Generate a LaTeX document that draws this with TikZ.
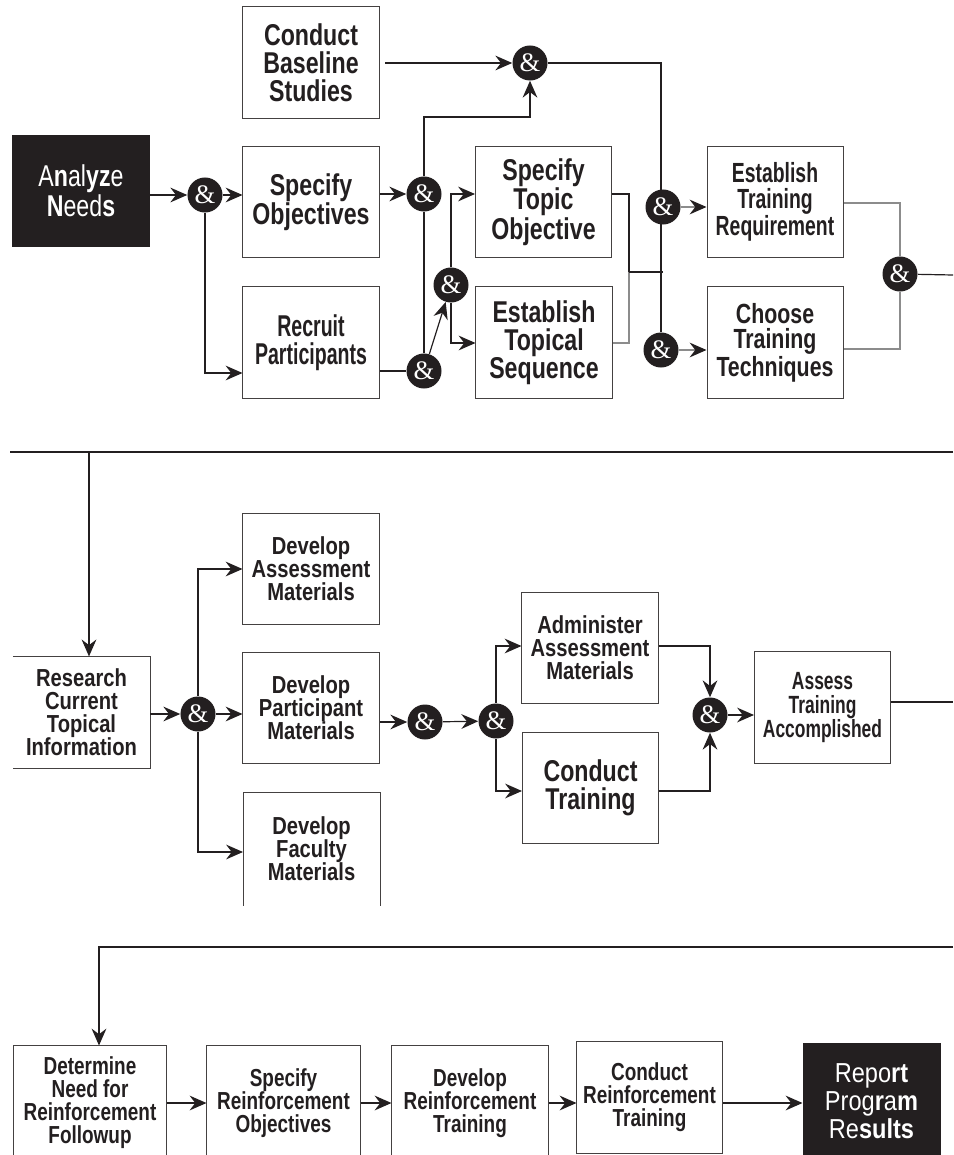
\documentclass[tikz,border=0pt]{standalone}
\usepackage{fontspec}
\setmainfont{Liberation Sans}
\newfontfamily\fA[FakeStretch=0.65]{Liberation Sans}
\newfontfamily\fB[FakeStretch=0.70]{Liberation Sans}
\newfontfamily\fC[FakeStretch=0.77]{Liberation Sans}
\newfontfamily\fD[FakeStretch=0.82]{Liberation Sans}
\newfontfamily\fE[FakeStretch=0.86]{Liberation Sans}
\newfontfamily\ampf{Liberation Serif}
\usetikzlibrary{arrows.meta,backgrounds}
\definecolor{ink}{HTML}{231F20}
\definecolor{gline}{HTML}{8C8C8C}
\begin{document}
\begin{tikzpicture}[x=0.025cm,y=-0.025cm,
  box/.style={draw=ink!85, line width=0.7pt, fill=white, text=ink, align=center, inner sep=0pt,
              minimum width=3.4cm, minimum height=2.78cm},
  openbox/.style={box, draw=none, fill=none},
  darkbox/.style={box, fill=ink, draw=ink, text=white},
  amp/.style={circle, fill=ink, text=white, minimum size=0.875cm, inner sep=0pt,
              font={\ampf\fontsize{19}{19}\selectfont}},
  line/.style={draw=ink, line width=0.85pt},
  gl/.style={draw=gline, line width=0.85pt},
  tip/.style={-{Stealth[length=12pt,width=10.5pt,inset=4pt,color=ink]}},
  arr/.style={line, tip},
  garr/.style={gl, tip},
  bigA/.style={font={\fA\fontsize{21.4}{19.9}\selectfont\bfseries}},
  bigB/.style={font={\fB\fontsize{19.7}{18.4}\selectfont\bfseries}},
  bigC/.style={font={\fC\fontsize{21.4}{19.9}\selectfont\bfseries}},
  midC/.style={font={\fC\fontsize{19.7}{18.4}\selectfont\bfseries}},
  smB/.style={font={\fB\fontsize{17.7}{17}\selectfont\bfseries}},
  smC/.style={font={\fC\fontsize{17.5}{16.4}\selectfont\bfseries}},
  smD/.style={font={\fD\fontsize{17.5}{16.4}\selectfont\bfseries}},
  side/.style={draw=ink!85, line width=0.7pt},
]
\useasboundingbox (0,0) rectangle (953,1155);

% ---------- top section ----------
\node[box,bigC] (base) at (311,62.5) {Conduct\\Baseline\\Studies};
\node[darkbox, font={\fC\fontsize{21.4}{21}\selectfont}] (analyze) at (81,191)
  {A\textbf{n}al\textbf{yz}e\\\textbf{N}eed\textbf{s}};
\node[box,bigC] (specobj) at (311,202) {Specify\\Objectives};
\node[box,bigA] (recruit) at (311,342.5) {Recruit\\Participants};
\node[box,bigC] (topicobj) at (543.5,202) {Specify\\Topic\\Objective};
\node[box,bigC] (topseq) at (544,342.5) {Establish\\Topical\\Sequence};
\node[box,bigB] (trainreq) at (775,202) {Establish\\Training\\Requirement};
\node[box,midC] (choose) at (775,342.5) {Choose\\Training\\Techniques};

\node[amp] (a1) at (205,195) {\&};
\node[amp] (a2) at (424,194) {\&};
\node[amp] (a3) at (530,63) {\&};
\node[amp] (a4) at (424,371) {\&};
\node[amp] (a5) at (451,285) {\&};
\node[amp] (a6) at (663,207) {\&};
\node[amp] (a7) at (661,350) {\&};
\node[amp] (a8) at (900,274) {\&};
\coordinate (j1) at (629,272);
\coordinate (e1) at (953,275);

% ---------- middle section ----------
\coordinate (l1) at (10,452);
\coordinate (r1) at (953,452);
\coordinate (d1) at (89,452);
\node[openbox,smD] (research) at (81.5,712.5) {Research\\Current\\Topical\\Information};
\node[box,smD] (devassess) at (311,569) {Develop\\Assessment\\Materials};
\node[box,smD] (devpart) at (311,708) {Develop\\Participant\\Materials};
\node[openbox,smD, minimum height=2.8cm] (devfac) at (311.5,849) {Develop\\Faculty\\Materials};
\node[box,smD] (admin) at (590,648) {Administer\\Assessment\\Materials};
\node[box,bigC] (condtrain) at (590.5,788) {Conduct\\Training};
\node[box,smB] (assess) at (822.5,707.5) {Assess\\Training\\Accomplished};

\node[amp] (b1) at (198,714) {\&};
\node[amp] (b2) at (425,722) {\&};
\node[amp] (b3) at (496,721) {\&};
\node[amp] (b4) at (710,715) {\&};
\coordinate (e2) at (953,702);

% ---------- bottom section ----------
\coordinate (r2) at (953,947);
\node[openbox,smC, minimum width=3.8cm, minimum height=2.85cm] (determine) at (90,1103)
  {Determine\\Need for\\Reinforcement\\Followup};
\node[openbox,smC, minimum width=3.825cm, minimum height=2.85cm] (specreinf) at (283.5,1103)
  {Specify\\Reinforcement\\Objectives};
\node[openbox,smC, minimum width=3.9cm, minimum height=2.85cm] (devreinf) at (470,1103)
  {Develop\\Reinforcement\\Training};
\node[box,smC, minimum width=3.625cm, minimum height=2.8cm] (condreinf) at (649.5,1097)
  {Conduct\\Reinforcement\\Training};
\node[darkbox, minimum width=3.425cm, minimum height=2.925cm,
      font={\fE\fontsize{19.5}{19.8}\selectfont}] (report) at (871.5,1101.5)
  {Repo\textbf{rt}\\Prog\textbf{r}a\textbf{m}\\Re\textbf{sults}};

\begin{scope}[on background layer]
  % open box outlines
  \draw[side] (research.north west) -- (research.north east)
      -- (research.south east) -- (research.south west);
  \draw[side] (devfac.south west) -- (devfac.north west)
      -- (devfac.north east) -- (devfac.south east);
  \draw[side] (determine.south west) -- (determine.north west)
      -- (determine.north east) -- (determine.south east);
  \draw[side] (specreinf.south west) -- (specreinf.north west)
      -- (specreinf.north east) -- (specreinf.south east);
  \draw[side] (devreinf.south west) -- (devreinf.north west)
      -- (devreinf.north east) -- (devreinf.south east);

  % top connectors
  \draw[arr] (analyze.east |- a1) -- (a1);
  \draw[arr] (a1) -- (a1 -| specobj.west);
  \draw[arr] (a1) |- (recruit.west |- 0,373);
  \draw[arr] (specobj.east |- a2) -- (a2);
  \draw[arr] (a2) |- (a3 |- 0,117) -- (a3);
  \draw[arr, shorten <=4pt] (base.east |- a3) -- (a3);
  \draw[line] (a2) -- (a4);
  \draw[line] (recruit.east |- a4) -- (a4);
  \draw[arr] (a4) -- (a5);
  \draw[arr] (a5) |- (topicobj.west |- 0,194);
  \draw[arr] (a5) |- (topseq.west |- 0,343);
  \draw[line] (topicobj.east |- 0,194) -| (j1);
  \draw[gl] (j1) |- (topseq.east |- 0,343);
  \draw[line] (j1) -- (j1 -| a6);
  \draw[line] (a3) -| (a7);
  \draw[garr] (a6) -- (a6 -| trainreq.west);
  \draw[garr] (a7) -- (a7 -| choose.west);
  \draw[gl] (trainreq.east |- 0,203) -| (a8);
  \draw[gl] (choose.east |- 0,349) -| (a8);
  \draw[line] (a8) -- (e1);

  % middle connectors
  \draw[line] (r1) -- (l1);
  \draw[arr] (d1) -- (d1 |- research.north);
  \draw[arr] (research.east |- b1) -- (b1);
  \draw[arr] (b1) -- (b1 -| devpart.west);
  \draw[arr] (b1) |- (devassess.west |- 0,569);
  \draw[arr] (b1) |- (devfac.west |- 0,852);
  \draw[arr] (devpart.east |- b2) -- (b2);
  \draw[arr] (b2) -- (b3);
  \draw[arr] (b3) |- (admin.west |- 0,646);
  \draw[arr] (b3) |- (condtrain.west |- 0,791);
  \draw[arr] (admin.east |- 0,646) -| (b4);
  \draw[arr] (condtrain.east |- 0,791) -| (b4);
  \draw[arr] (b4) -- (b4 -| assess.west);
  \draw[line] (assess.east |- e2) -- (e2);

  % bottom connectors
  \draw[arr] (r2) -| (99,0 |- determine.north);
  \draw[arr] (determine.east |- 0,1103) -- (specreinf.west |- 0,1103);
  \draw[arr] (specreinf.east |- 0,1103) -- (devreinf.west |- 0,1103);
  \draw[arr] (devreinf.east |- 0,1103) -- (condreinf.west |- 0,1103);
  \draw[arr] (condreinf.east |- 0,1103) -- (report.west |- 0,1103);
\end{scope}
\end{tikzpicture}
\end{document}
